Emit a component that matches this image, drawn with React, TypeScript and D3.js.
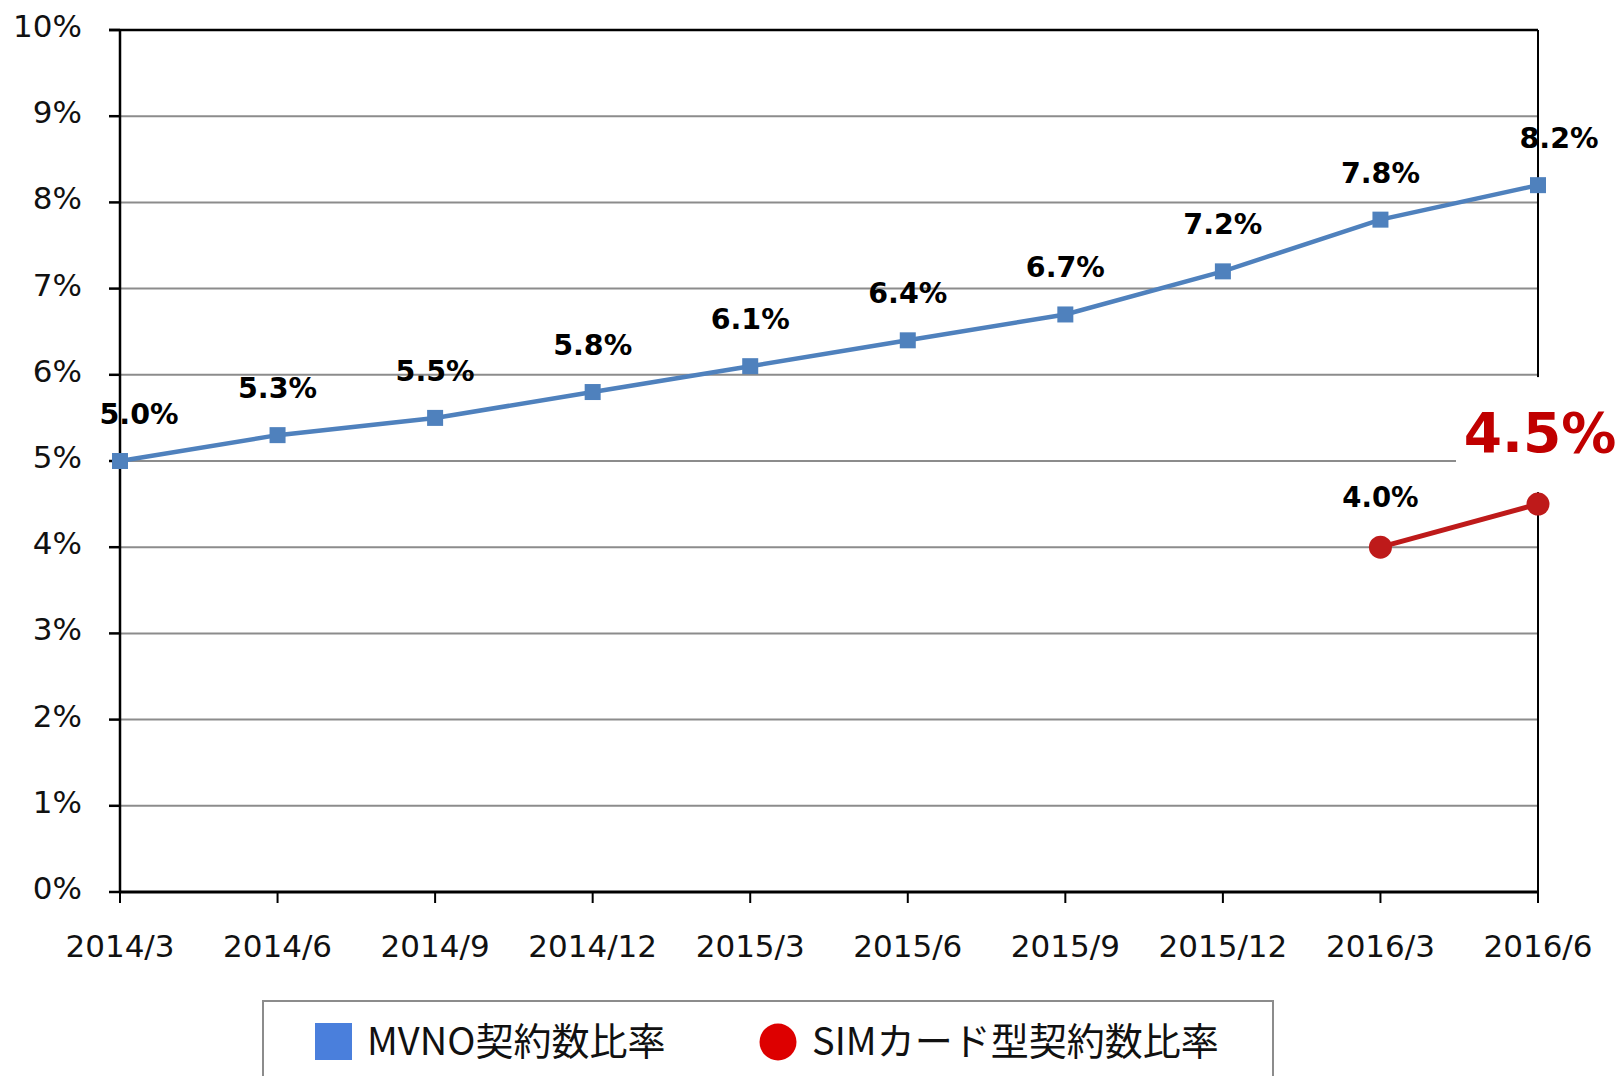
import React from 'react';
import * as d3 from 'd3';

const categories = ['2014/3', '2014/6', '2014/9', '2014/12', '2015/3', '2015/6', '2015/9', '2015/12', '2016/3', '2016/6'];
const mvnoValues = [5.0, 5.3, 5.5, 5.8, 6.1, 6.4, 6.7, 7.2, 7.8, 8.2];
const simCategories = ['2016/3', '2016/6'];
const simValues = [4.0, 4.5];
const yTicks = [0, 1, 2, 3, 4, 5, 6, 7, 8, 9, 10];

const W = 1617;
const H = 1076;
const margin = { top: 30, right: 79, bottom: 184, left: 120 };

const numFont = '"DejaVu Sans", Verdana, sans-serif';
const cjkFont = '"Noto Sans CJK JP", "Noto Sans", sans-serif';

export default function App() {
  const x = d3.scalePoint<string>()
    .domain(categories)
    .range([margin.left, W - margin.right]);

  const y = d3.scaleLinear()
    .domain([0, 10])
    .range([H - margin.bottom, margin.top]);

  const line = d3.line<number>()
    .x((_, i) => x(categories[i])!)
    .y(d => y(d));

  const simLine = d3.line<number>()
    .x((_, i) => x(simCategories[i])!)
    .y(d => y(d));

  const x0 = x(categories[0])!;
  const x1 = x(categories[categories.length - 1])!;
  const yBottom = y(0);
  const yTop = y(10);

  // first and last labels sit a bit right of their markers in the original
  const labelDx = (i: number) => (i === 0 ? 19 : i === categories.length - 1 ? 21 : 0);

  const lastSimX = x(simCategories[1])!;
  const lastSimY = y(simValues[1]);

  return (
    <svg width={W} height={H} style={{ position: 'absolute', left: 0, top: 0, background: '#fff' }}>
      {/* gridlines */}
      {yTicks.filter(t => t > 0 && t < 10).map(t => (
        <line key={t} x1={x0} x2={x1} y1={y(t)} y2={y(t)} stroke="#8c8c8c" strokeWidth={2} />
      ))}

      {/* frame: top and right */}
      <line x1={x0 - 11} x2={x1} y1={yTop} y2={yTop} stroke="#000" strokeWidth={2.5} />
      <line x1={x1} x2={x1} y1={yTop} y2={yBottom} stroke="#000" strokeWidth={2} />

      {/* y axis */}
      <line x1={x0} x2={x0} y1={yTop} y2={yBottom} stroke="#000" strokeWidth={2.5} />
      {yTicks.map(t => (
        <g key={t}>
          <line x1={x0 - 11} x2={x0} y1={y(t)} y2={y(t)} stroke="#000" strokeWidth={2.5} />
          <text x={82} y={y(t) + 7} textAnchor="end" fontFamily={numFont} fontSize={31} fill="#111">{t}%</text>
        </g>
      ))}

      {/* x axis */}
      <line x1={x0} x2={x1} y1={yBottom} y2={yBottom} stroke="#000" strokeWidth={3} />
      {categories.map(c => (
        <g key={c}>
          <line x1={x(c)} x2={x(c)} y1={yBottom} y2={yBottom + 11} stroke="#000" strokeWidth={2} />
          <text x={x(c)} y={957} textAnchor="middle" fontFamily={numFont} fontSize={31} fill="#111">{c}</text>
        </g>
      ))}

      {/* white box behind the big label */}
      <rect x={lastSimX - 82} y={lastSimY - 127} width={170} height={115} fill="#fff" />

      {/* MVNO series */}
      <path d={line(mvnoValues)!} fill="none" stroke="#4F81BD" strokeWidth={4.5} />
      {mvnoValues.map((v, i) => (
        <rect key={i} x={x(categories[i])! - 8} y={y(v) - 8} width={16} height={16} fill="#4F81BD" />
      ))}
      {mvnoValues.map((v, i) => (
        <text key={i} x={x(categories[i])! + labelDx(i)} y={y(v) - 37} textAnchor="middle"
          fontFamily={numFont} fontWeight="bold" fontSize={28.5} fill="#000">{v.toFixed(1)}%</text>
      ))}

      {/* SIM series */}
      <path d={simLine(simValues)!} fill="none" stroke="#BE1A1A" strokeWidth={5} />
      {simValues.map((v, i) => (
        <circle key={i} cx={x(simCategories[i])} cy={y(v)} r={11.5} fill="#BE1A1A" />
      ))}
      <text x={x(simCategories[0])} y={y(simValues[0]) - 40} textAnchor="middle"
        fontFamily={numFont} fontWeight="bold" fontSize={27.5} fill="#000">{simValues[0].toFixed(1)}%</text>
      <text x={lastSimX + 2} y={lastSimY - 52} textAnchor="middle"
        fontFamily={numFont} fontWeight="bold" fontSize={55} fill="#C00000">{simValues[1].toFixed(1)}%</text>

      {/* legend */}
      <rect x={263} y={1001} width={1010} height={100} fill="#fff" stroke="#8c8c8c" strokeWidth={2} />
      <rect x={315} y={1023} width={37} height={37} fill="#4A7FDC" />
      <text x={367} y={1055} fontFamily={cjkFont} fontSize={38} fill="#111">MVNO契約数比率</text>
      <circle cx={778} cy={1042} r={18.5} fill="#DD0000" />
      <text x={812} y={1055} fontFamily={cjkFont} fontSize={38} fill="#111">SIMカード型契約数比率</text>
    </svg>
  );
}
